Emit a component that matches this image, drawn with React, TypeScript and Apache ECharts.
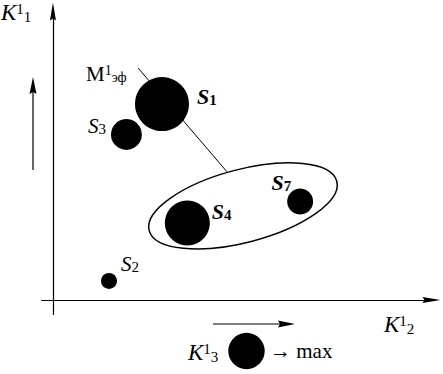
import React, { useEffect, useRef } from "react";
import * as echarts from "echarts";

// ---- data (K¹₂ on x, K¹₁ on y, K¹₃ as bubble size) ----
const pointNames = ["S1", "S3", "S4", "S7", "S2"];
const pointSub = ["1", "3", "4", "7", "2"];
const pointBold = [true, false, true, true, false];
const k12Values = [2.88, 1.94, 3.55, 6.53, 1.48];
const k11Values = [6.79, 5.74, 2.67, 3.41, 0.66];
const k13Values = [5.4, 3.1, 4.5, 2.6, 1.6];

// efficiency line M¹эф
const effLineX = [2.25, 4.6];
const effLineY = [8.04, 4.44];

// cluster ellipse centre
const clusterX = [5.02];
const clusterY = [3.26];

const FONT = "Liberation Serif";

// label placement per point (layout, not data)
const labelPlacement: Record<string, { position: string; distance: number; offset: number[] }> = {
  S1: { position: "right", distance: 8, offset: [0, -8] },
  S3: { position: "left", distance: 5, offset: [0, -8] },
  S4: { position: "right", distance: 2, offset: [0, -11] },
  S7: { position: "left", distance: -4, offset: [0, -19] },
  S2: { position: "right", distance: 4, offset: [0, -17] },
};

const ARROW = "path://M3,0L6,18L3,16L0,18Z";

export default function App() {
  const ref = useRef<HTMLDivElement>(null);

  useEffect(() => {
    document.body.style.margin = "0";
    if (!ref.current) return;
    const chart = echarts.init(ref.current, undefined, { renderer: "svg" });

    const scatterData = pointNames.map((n, i) => {
      const p = labelPlacement[n];
      return {
        name: n,
        value: [k12Values[i], k11Values[i], k13Values[i]],
        label: {
          show: true,
          position: p.position,
          distance: p.distance,
          offset: p.offset,
          formatter: pointBold[i] ? `{sb|S}{subb|${pointSub[i]}}` : `{s|S}{sub|${pointSub[i]}}`,
        },
      };
    });

    const richBase = {
      s: { fontFamily: FONT, fontStyle: "italic", fontSize: 21, lineHeight: 21, color: "#000" },
      sb: { fontFamily: FONT, fontStyle: "italic", fontWeight: "bold", fontSize: 22, lineHeight: 22, color: "#000" },
      sub: { fontFamily: FONT, fontSize: 15, lineHeight: 6, verticalAlign: "bottom", color: "#000" },
      subb: { fontFamily: FONT, fontWeight: "bold", fontSize: 15, lineHeight: 15, verticalAlign: "bottom", color: "#000" },
    };

    const kRich = {
      k: { fontFamily: FONT, fontStyle: "italic", fontSize: 23, lineHeight: 23, color: "#000" },
      sup: { fontFamily: FONT, fontSize: 15, lineHeight: 15, verticalAlign: "top", color: "#000" },
      sub: { fontFamily: FONT, fontSize: 15, lineHeight: 13, verticalAlign: "bottom", color: "#000" },
    };

    const axisCommon = {
      type: "value",
      axisLine: {
        show: true,
        onZero: true,
        symbol: ["none", ARROW],
        symbolSize: [6, 18],
        lineStyle: { color: "#000", width: 1.2 },
      },
      axisTick: { show: false },
      axisLabel: { show: false },
      splitLine: { show: false },
    };

    chart.setOption({
      animation: false,
      backgroundColor: "#fff",
      grid: { left: 41.6, right: 11.5, top: 11.5, bottom: 59.6 },
      xAxis: { ...axisCommon, min: -0.3, max: 10 },
      yAxis: { ...axisCommon, min: -0.5, max: 10 },
      series: [
        {
          type: "line",
          data: effLineX.map((x, i) => [x, effLineY[i]]),
          symbol: "none",
          lineStyle: { color: "#000", width: 1 },
          z: 1,
          silent: true,
        },
        {
          type: "custom",
          data: clusterX.map((x, i) => [x, clusterY[i]]),
          z: 2,
          silent: true,
          renderItem: (params: any, api: any) => {
            const c = api.coord([api.value(0), api.value(1)]);
            return {
              type: "ellipse",
              x: c[0],
              y: c[1],
              rotation: (14.7 * Math.PI) / 180,
              shape: { cx: 0, cy: 0, rx: 97, ry: 36.5 },
              style: { fill: "none", stroke: "#000", lineWidth: 1.5 },
            };
          },
        },
        {
          type: "scatter",
          data: scatterData,
          symbolSize: (val: number[]) => val[2] * 10,
          itemStyle: { color: "#000", opacity: 1 },
          label: { rich: richBase, color: "#000" },
          z: 3,
          silent: true,
        },
      ],
      graphic: [
        // K¹₁ axis title
        {
          type: "text",
          x: 1,
          y: 1,
          style: { text: "{k|K}{sup|1}{sub|1}", rich: kRich, textAlign: "left", textVerticalAlign: "top" },
        },
        // K¹₂ axis title
        {
          type: "text",
          x: 384,
          y: 313,
          style: { text: "{k|K}{sup|1}{sub|2}", rich: kRich, textAlign: "left", textVerticalAlign: "top" },
        },
        // M¹эф
        {
          type: "text",
          x: 86,
          y: 63,
          style: {
            text: "{m|M}{sup|1}{sub|эф}",
            rich: {
              m: { fontFamily: FONT, fontSize: 21, lineHeight: 21, color: "#000" },
              sup: { fontFamily: FONT, fontSize: 14, lineHeight: 14, verticalAlign: "top", color: "#000" },
              sub: { fontFamily: FONT, fontSize: 14, lineHeight: 10, verticalAlign: "bottom", color: "#000" },
            },
            textAlign: "left",
            textVerticalAlign: "top",
          },
        },
        // left vertical arrow
        { type: "line", shape: { x1: 33, y1: 170, x2: 33, y2: 90 }, style: { stroke: "#000", lineWidth: 1.2 } },
        { type: "polygon", shape: { points: [[33, 77], [36.5, 94], [33, 92], [29.5, 94]] }, style: { fill: "#000" } },
        // legend arrow
        { type: "line", shape: { x1: 213, y1: 324, x2: 282, y2: 324 }, style: { stroke: "#000", lineWidth: 1.2 } },
        { type: "polygon", shape: { points: [[295, 324], [278, 320.5], [280, 324], [278, 327.5]] }, style: { fill: "#000" } },
        // legend: K¹₃ ● → max
        {
          type: "text",
          x: 188,
          y: 341,
          style: { text: "{k|K}{sup|1}{sub|3}", rich: kRich, textAlign: "left", textVerticalAlign: "top" },
        },
        { type: "circle", shape: { cx: 246.5, cy: 351, r: 18.2 }, style: { fill: "#000" } },
        {
          type: "text",
          x: 270,
          y: 340,
          style: { text: "→ max", fontFamily: FONT, fontSize: 21, fill: "#000", textAlign: "left", textVerticalAlign: "top" },
        },
      ],
    });

    return () => chart.dispose();
  }, []);

  return <div ref={ref} style={{ width: 443, height: 374 }} />;
}
